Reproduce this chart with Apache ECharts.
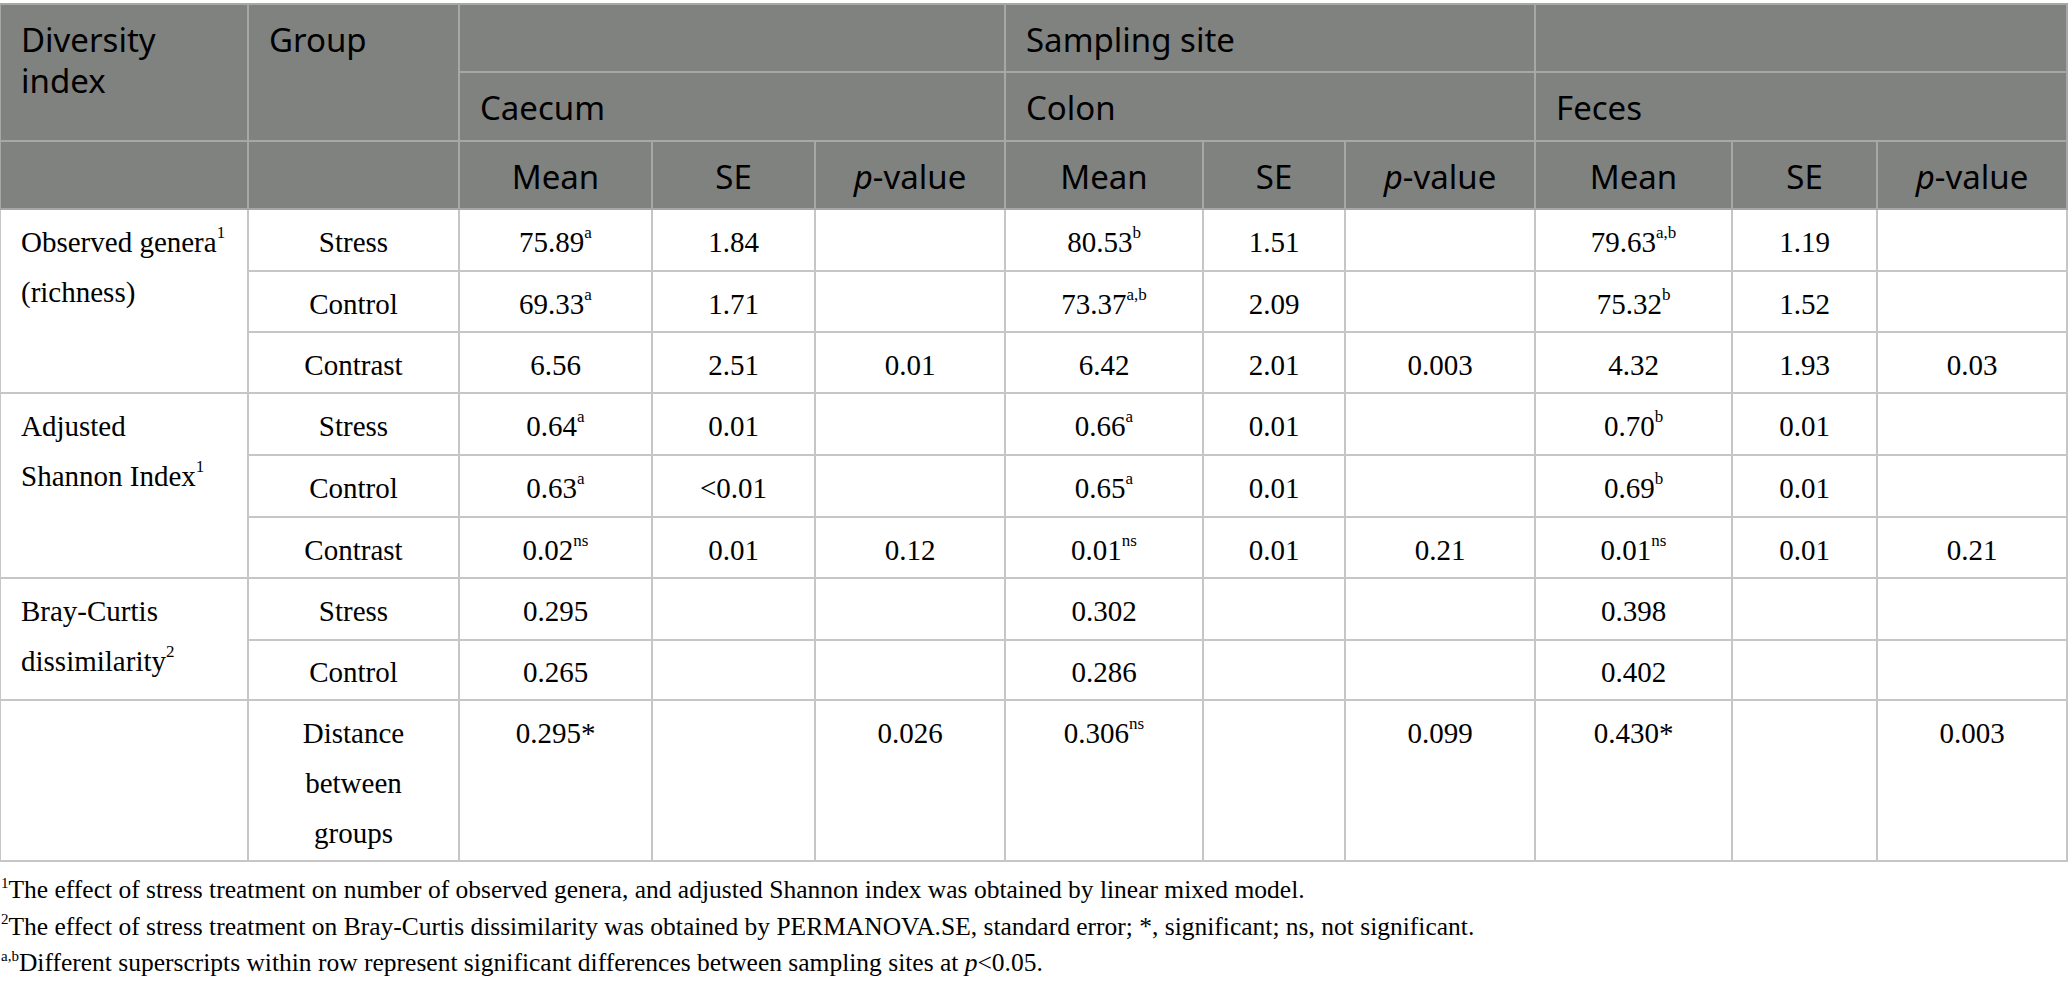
<!DOCTYPE html>
<html>
<head>
<meta charset="utf-8">
<script src="https://cdn.jsdelivr.net/npm/echarts@6/dist/echarts.min.js"></script>
<style>
  html, body { margin: 0; padding: 0; background: #fff; }
  #main { width: 2068px; height: 989px; }
</style>
</head>
<body>
<div id="main"></div>
<script>
// ---- table content (^{..} = superscript, _{..} = italic) ----
var indexLabels = ['Observed genera^{1}\n(richness)', 'Adjusted\nShannon Index^{1}', 'Bray-Curtis\ndissimilarity^{2}'];
var indexSpans = [[0, 3], [3, 3], [6, 2]]; // first body row, number of rows
var groups = ['Stress', 'Control', 'Contrast', 'Stress', 'Control', 'Contrast', 'Stress', 'Control', 'Distance\nbetween\ngroups'];
var sites = ['Caecum', 'Colon', 'Feces'];
var statNames = ['Mean', 'SE', '_{p}-value'];

var caecumMean = ['75.89^{a}', '69.33^{a}', '6.56', '0.64^{a}', '0.63^{a}', '0.02^{ns}', '0.295', '0.265', '0.295*'];
var caecumSE   = ['1.84', '1.71', '2.51', '0.01', '<0.01', '0.01', '', '', ''];
var caecumP    = ['', '', '0.01', '', '', '0.12', '', '', '0.026'];
var colonMean  = ['80.53^{b}', '73.37^{a,b}', '6.42', '0.66^{a}', '0.65^{a}', '0.01^{ns}', '0.302', '0.286', '0.306^{ns}'];
var colonSE    = ['1.51', '2.09', '2.01', '0.01', '0.01', '0.01', '', '', ''];
var colonP     = ['', '', '0.003', '', '', '0.21', '', '', '0.099'];
var fecesMean  = ['79.63^{a,b}', '75.32^{b}', '4.32', '0.70^{b}', '0.69^{b}', '0.01^{ns}', '0.398', '0.402', '0.430*'];
var fecesSE    = ['1.19', '1.52', '1.93', '0.01', '0.01', '0.01', '', '', ''];
var fecesP     = ['', '', '0.03', '', '', '0.21', '', '', '0.003'];

var footnotes = [
  '^{1}The effect of stress treatment on number of observed genera, and adjusted Shannon index was obtained by linear mixed model.',
  '^{2}The effect of stress treatment on Bray-Curtis dissimilarity was obtained by PERMANOVA.SE, standard error; *, significant; ns, not significant.',
  '^{a,b}Different superscripts within row represent significant differences between sampling sites at _{p}<0.05.'
];

// ---- layout (pixels in a 2068 x 989 frame) ----
var colX = [0, 248, 459, 652, 815, 1005, 1203, 1345, 1535, 1732, 1877, 2067];
var headY = [4, 72, 141, 209];
var rowY = [209, 271, 332, 393, 455, 517, 578, 640, 700, 861];
var noteY = [871, 908, 944, 981];

var HEAD_FILL = '#808280';
var HEAD_LINE = '#a6a8a6';
var BODY_LINE = '#c6c6c6';
var INK = '#231f20';
var SERIF = "'Liberation Serif', 'Times New Roman', Times, serif";
var SANS = "'Noto Sans', 'Open Sans', sans-serif";

// superscripts: verticalAlign top + top padding puts them at cap height
var richStyles = {
  b:  { fontFamily: SERIF, fontSize: 29, lineHeight: 50, color: INK },
  bs: { fontFamily: SERIF, fontSize: 17, lineHeight: 20, padding: [7, 0, 0, 0], verticalAlign: 'top', color: INK },
  bi: { fontFamily: SERIF, fontSize: 29, lineHeight: 50, fontStyle: 'italic', color: INK },
  h:  { fontFamily: SANS, fontSize: 33, lineHeight: 41, color: '#fff' },
  hi: { fontFamily: SANS, fontSize: 33, lineHeight: 41, fontStyle: 'italic', color: '#fff' },
  f:  { fontFamily: SERIF, fontSize: 25.5, lineHeight: 37, color: INK },
  fs: { fontFamily: SERIF, fontSize: 15, lineHeight: 18, padding: [4, 0, 0, 0], verticalAlign: 'top', color: INK },
  fi: { fontFamily: SERIF, fontSize: 25.5, lineHeight: 37, fontStyle: 'italic', color: INK }
};

// turn the ^{..} / _{..} markup into echarts rich text
function toRich(str, kind) {
  return str.split('\n').map(function (line) {
    var out = '', last = 0, m;
    var re = /(\^|_)\{([^}]*)\}/g;
    while ((m = re.exec(line))) {
      if (m.index > last) out += '{' + kind + '|' + line.slice(last, m.index) + '}';
      out += '{' + kind + (m[1] === '^' ? 's' : 'i') + '|' + m[2] + '}';
      last = re.lastIndex;
    }
    if (last < line.length) out += '{' + kind + '|' + line.slice(last) + '}';
    return out;
  }).join('\n');
}

var cells = [];
var cellInfo = [];
function addCell(x0, y0, x1, y1, info) {
  cells.push([x0, y0, x1, y1]);
  cellInfo.push(info);
}

// body
var siteCols = [
  [caecumMean, caecumSE, caecumP],
  [colonMean, colonSE, colonP],
  [fecesMean, fecesSE, fecesP]
];
indexSpans.forEach(function (sp, i) {
  addCell(colX[0], rowY[sp[0]], colX[1], rowY[sp[0] + sp[1]],
    { text: toRich(indexLabels[i], 'b'), align: 'left', kind: 'b', stroke: BODY_LINE });
});
addCell(colX[0], rowY[8], colX[1], rowY[9], { kind: 'b', stroke: BODY_LINE });
groups.forEach(function (g, r) {
  addCell(colX[1], rowY[r], colX[2], rowY[r + 1], { text: toRich(g, 'b'), align: 'center', kind: 'b', stroke: BODY_LINE });
  siteCols.forEach(function (cols, s) {
    cols.forEach(function (vals, k) {
      var c = 2 + s * 3 + k;
      addCell(colX[c], rowY[r], colX[c + 1], rowY[r + 1],
        { text: vals[r] ? toRich(vals[r], 'b') : '', align: 'center', kind: 'b', stroke: BODY_LINE });
    });
  });
});

// header
addCell(colX[0], headY[0], colX[1], headY[2], { text: toRich('Diversity\nindex', 'h'), align: 'left', kind: 'h', fill: HEAD_FILL, stroke: HEAD_LINE });
addCell(colX[1], headY[0], colX[2], headY[2], { text: toRich('Group', 'h'), align: 'left', kind: 'h', fill: HEAD_FILL, stroke: HEAD_LINE });
addCell(colX[2], headY[0], colX[5], headY[1], { kind: 'h', fill: HEAD_FILL, stroke: HEAD_LINE });
addCell(colX[5], headY[0], colX[8], headY[1], { text: toRich('Sampling site', 'h'), align: 'left', kind: 'h', fill: HEAD_FILL, stroke: HEAD_LINE });
addCell(colX[8], headY[0], colX[11], headY[1], { kind: 'h', fill: HEAD_FILL, stroke: HEAD_LINE });
sites.forEach(function (s, i) {
  addCell(colX[2 + i * 3], headY[1], colX[5 + i * 3], headY[2], { text: toRich(s, 'h'), align: 'left', kind: 'h', fill: HEAD_FILL, stroke: HEAD_LINE });
});
addCell(colX[0], headY[2], colX[1], headY[3], { kind: 'h', fill: HEAD_FILL, stroke: HEAD_LINE });
addCell(colX[1], headY[2], colX[2], headY[3], { kind: 'h', fill: HEAD_FILL, stroke: HEAD_LINE });
for (var c = 2; c < 11; c++) {
  addCell(colX[c], headY[2], colX[c + 1], headY[3],
    { text: toRich(statNames[(c - 2) % 3], 'h'), align: 'center', kind: 'h', fill: HEAD_FILL, stroke: HEAD_LINE });
}

// footnotes
footnotes.forEach(function (t, i) {
  addCell(0, noteY[i], 2068, noteY[i + 1], { text: toRich(t, 'f'), align: 'left', kind: 'f', padX: 1 });
});

var slotOf = { b: 62, h: 68, f: 37 };
var lhOf = { b: 50, h: 41, f: 37 };
var dyOf = { b: 2, h: 1, f: 0 };

var chart = echarts.init(document.getElementById('main'), null, { renderer: 'svg' });
chart.setOption({
  animation: false,
  grid: { left: 0, right: 0, top: 0, bottom: 0 },
  xAxis: { type: 'value', min: 0, max: 2068, show: false },
  yAxis: { type: 'value', min: 0, max: 989, inverse: true, show: false },
  series: [{
    type: 'custom',
    silent: true,
    clip: false,
    data: cells,
    renderItem: function (params, api) {
      var c = cellInfo[params.dataIndex];
      var a = api.coord([api.value(0), api.value(1)]);
      var b = api.coord([api.value(2), api.value(3)]);
      var kids = [];
      if (c.fill || c.stroke) {
        kids.push({
          type: 'rect',
          shape: { x: a[0], y: a[1], width: b[0] - a[0], height: b[1] - a[1] },
          style: { fill: c.fill || 'none', stroke: c.stroke || 'none', lineWidth: 2 }
        });
      }
      if (c.text) {
        var slot = Math.min(b[1] - a[1], slotOf[c.kind]);
        var tx = c.align === 'left' ? a[0] + (c.padX != null ? c.padX : 21) : (a[0] + b[0]) / 2;
        var ty = a[1] + (slot - lhOf[c.kind]) / 2 + dyOf[c.kind];
        kids.push({
          type: 'text',
          x: tx,
          y: ty,
          style: { text: c.text, rich: richStyles, align: c.align, verticalAlign: 'top' }
        });
      }
      return { type: 'group', children: kids };
    }
  }]
});
</script>
</body>
</html>
